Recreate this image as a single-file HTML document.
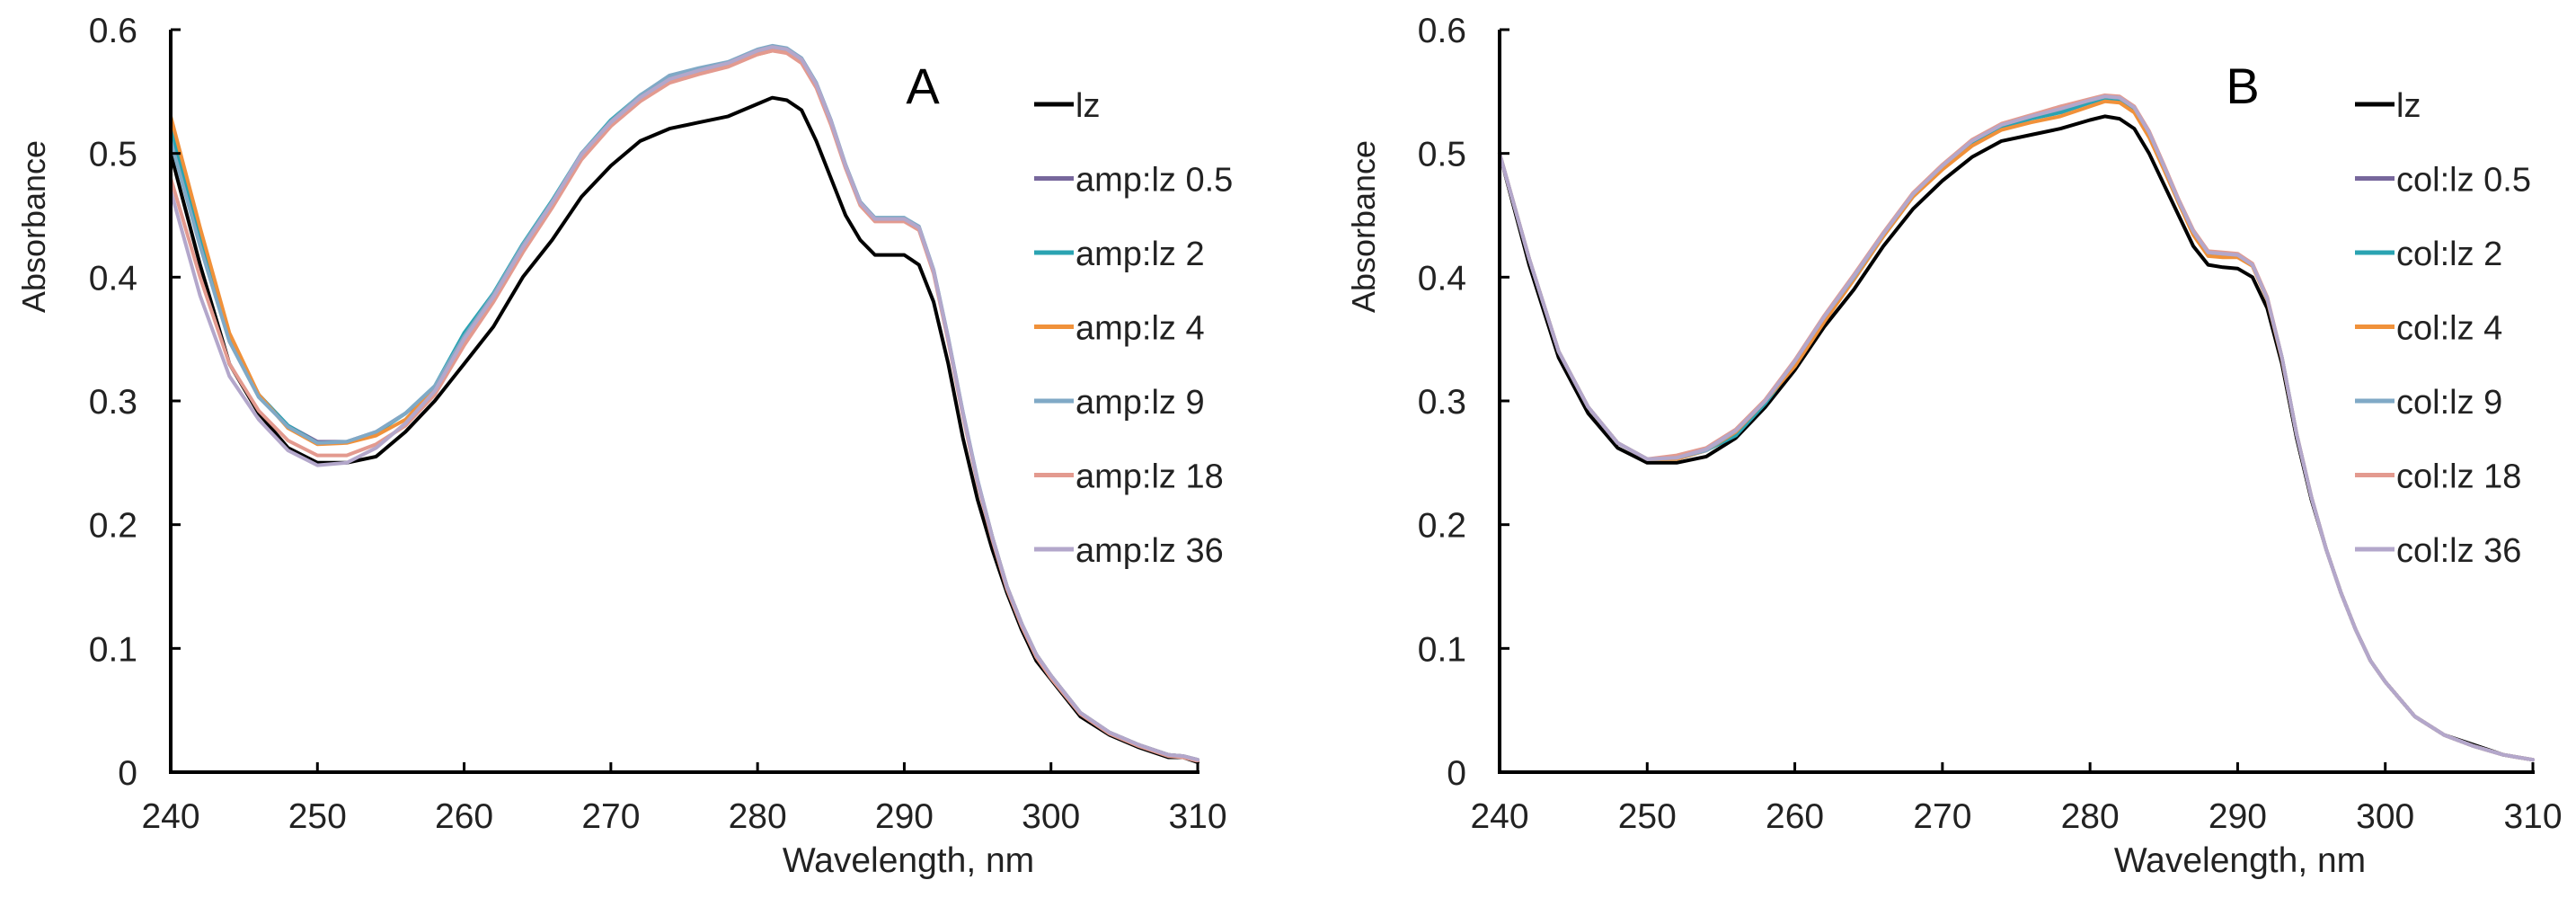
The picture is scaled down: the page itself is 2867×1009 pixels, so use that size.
<!DOCTYPE html>
<html><head><meta charset="utf-8"><style>
html,body{margin:0;padding:0;background:#fff;}
svg{display:block;font-family:"Liberation Sans",Arial,sans-serif;}
</style></head><body>
<svg id="fig" width="2867" height="1009" viewBox="0 0 2867 1009"></svg>
<script>
const wl = [240,242,244,246,248,250,252,254,256,258,260,262,264,266,268,270,272,274,276,278,280,281,282,283,284,285,286,287,288,289,290,291,292,293,294,295,296,297,298,299,300,302,304,306,308,309,310];
const xTicks = [240,250,260,270,280,290,300,310];
const yTicks = [0,0.1,0.2,0.3,0.4,0.5,0.6];
const yTickLabels = ["0","0.1","0.2","0.3","0.4","0.5","0.6"];
const colors = ["#000000","#77679c","#2aa3b2","#f0913a","#80a9c6","#e39a8f","#b3a7cb"];
const namesA = ["lz","amp:lz 0.5","amp:lz 2","amp:lz 4","amp:lz 9","amp:lz 18","amp:lz 36"];
const namesB = ["lz","col:lz 0.5","col:lz 2","col:lz 4","col:lz 9","col:lz 18","col:lz 36"];

const A_lz   = [0.50,0.41,0.33,0.29,0.262,0.25,0.25,0.255,0.275,0.30,0.33,0.36,0.40,0.43,0.465,0.49,0.51,0.52,0.525,0.53,0.54,0.545,0.543,0.535,0.51,0.48,0.45,0.43,0.418,0.418,0.418,0.41,0.38,0.33,0.27,0.22,0.18,0.145,0.115,0.09,0.075,0.045,0.03,0.02,0.012,0.012,0.008];
const A_05   = [0.52,0.43,0.35,0.305,0.28,0.267,0.267,0.275,0.29,0.31,0.35,0.385,0.425,0.46,0.50,0.525,0.545,0.56,0.567,0.572,0.582,0.585,0.583,0.575,0.555,0.525,0.49,0.46,0.447,0.447,0.447,0.44,0.405,0.35,0.29,0.235,0.19,0.15,0.12,0.095,0.078,0.048,0.032,0.022,0.014,0.013,0.01];
const A_2    = [0.52,0.43,0.35,0.305,0.28,0.266,0.267,0.274,0.29,0.312,0.355,0.387,0.427,0.462,0.50,0.527,0.547,0.562,0.568,0.572,0.583,0.586,0.584,0.576,0.556,0.526,0.49,0.46,0.448,0.448,0.448,0.44,0.405,0.35,0.29,0.235,0.19,0.15,0.12,0.095,0.078,0.048,0.032,0.022,0.014,0.013,0.01];
const A_4    = [0.53,0.44,0.355,0.305,0.278,0.265,0.266,0.272,0.285,0.31,0.348,0.383,0.423,0.458,0.497,0.523,0.543,0.558,0.565,0.573,0.58,0.583,0.582,0.574,0.554,0.524,0.49,0.46,0.446,0.446,0.446,0.44,0.405,0.35,0.29,0.235,0.19,0.15,0.12,0.095,0.078,0.048,0.032,0.022,0.014,0.013,0.01];
const A_9    = [0.51,0.425,0.348,0.303,0.279,0.266,0.267,0.275,0.29,0.312,0.352,0.386,0.426,0.461,0.50,0.526,0.547,0.563,0.569,0.574,0.584,0.587,0.585,0.577,0.557,0.527,0.491,0.461,0.448,0.448,0.448,0.441,0.406,0.351,0.291,0.236,0.19,0.15,0.12,0.095,0.078,0.048,0.032,0.022,0.014,0.013,0.01];
const A_18   = [0.48,0.40,0.33,0.292,0.268,0.256,0.256,0.265,0.28,0.305,0.345,0.38,0.42,0.456,0.495,0.522,0.542,0.557,0.564,0.57,0.58,0.583,0.581,0.573,0.553,0.523,0.488,0.458,0.445,0.445,0.445,0.438,0.403,0.348,0.288,0.233,0.188,0.148,0.118,0.093,0.076,0.047,0.031,0.021,0.013,0.012,0.009];
const A_36   = [0.47,0.385,0.32,0.285,0.26,0.248,0.25,0.262,0.282,0.308,0.35,0.384,0.424,0.46,0.499,0.525,0.545,0.56,0.567,0.573,0.583,0.586,0.584,0.576,0.556,0.526,0.49,0.46,0.447,0.447,0.447,0.44,0.405,0.35,0.29,0.235,0.19,0.15,0.12,0.095,0.078,0.048,0.032,0.022,0.014,0.013,0.01];

const B_lz   = [0.50,0.41,0.335,0.29,0.262,0.25,0.25,0.255,0.27,0.295,0.325,0.36,0.39,0.425,0.455,0.478,0.497,0.51,0.515,0.52,0.527,0.53,0.528,0.52,0.50,0.475,0.45,0.425,0.41,0.408,0.407,0.40,0.375,0.33,0.27,0.22,0.18,0.145,0.115,0.09,0.073,0.045,0.03,0.022,0.014,0.012,0.01];
const B_05   = [0.50,0.415,0.34,0.295,0.266,0.253,0.253,0.26,0.275,0.30,0.332,0.368,0.40,0.435,0.467,0.49,0.51,0.523,0.53,0.535,0.543,0.546,0.545,0.537,0.517,0.49,0.462,0.437,0.42,0.419,0.418,0.41,0.383,0.335,0.273,0.222,0.18,0.145,0.115,0.09,0.073,0.045,0.03,0.021,0.014,0.012,0.01];
const B_2    = [0.50,0.415,0.34,0.295,0.266,0.253,0.253,0.26,0.272,0.298,0.33,0.366,0.398,0.433,0.465,0.488,0.508,0.521,0.528,0.533,0.541,0.544,0.543,0.535,0.515,0.488,0.46,0.435,0.419,0.418,0.417,0.41,0.383,0.335,0.273,0.222,0.18,0.145,0.115,0.09,0.073,0.045,0.03,0.021,0.014,0.012,0.01];
const B_4    = [0.50,0.415,0.34,0.295,0.266,0.253,0.253,0.26,0.275,0.30,0.328,0.364,0.398,0.433,0.465,0.487,0.506,0.519,0.525,0.53,0.538,0.542,0.541,0.533,0.513,0.487,0.46,0.434,0.417,0.416,0.416,0.409,0.382,0.334,0.273,0.222,0.18,0.145,0.115,0.09,0.073,0.045,0.03,0.021,0.014,0.012,0.01];
const B_9    = [0.50,0.415,0.34,0.295,0.266,0.253,0.254,0.26,0.276,0.30,0.332,0.368,0.40,0.435,0.467,0.49,0.51,0.523,0.53,0.538,0.543,0.546,0.545,0.537,0.517,0.49,0.462,0.437,0.42,0.419,0.418,0.41,0.383,0.335,0.273,0.222,0.18,0.145,0.115,0.09,0.073,0.045,0.03,0.021,0.014,0.012,0.01];
const B_18   = [0.50,0.415,0.34,0.295,0.266,0.253,0.256,0.262,0.277,0.301,0.333,0.369,0.402,0.436,0.468,0.491,0.511,0.524,0.531,0.538,0.544,0.547,0.546,0.538,0.518,0.491,0.463,0.438,0.421,0.42,0.419,0.411,0.384,0.335,0.273,0.222,0.18,0.145,0.115,0.09,0.073,0.045,0.03,0.021,0.014,0.012,0.01];
const B_36   = [0.50,0.415,0.34,0.295,0.266,0.253,0.254,0.261,0.276,0.30,0.332,0.368,0.401,0.435,0.467,0.49,0.51,0.523,0.53,0.536,0.543,0.546,0.545,0.537,0.517,0.49,0.462,0.437,0.42,0.419,0.418,0.41,0.383,0.335,0.273,0.222,0.18,0.145,0.115,0.09,0.073,0.045,0.03,0.021,0.014,0.012,0.01];

const seriesA = [A_lz,A_05,A_2,A_4,A_9,A_18,A_36];
const seriesB = [B_lz,B_05,B_2,B_4,B_9,B_18,B_36];

const NS = "http://www.w3.org/2000/svg";
const svg = document.getElementById("fig");
function mk(tag, attrs, parent){
  const e = document.createElementNS(NS, tag);
  for (const k in attrs) e.setAttribute(k, attrs[k]);
  (parent||svg).appendChild(e);
  return e;
}

function drawPanel(cfg){
  const g = mk("g", {});
  
  
  const x0 = cfg.x0, x1 = cfg.x1, yTop = 33, yBot = 859;
  const sx = v => x0 + (v - 240) / 70 * (x1 - x0);
  const sy = v => yBot - v / 0.6 * (yBot - yTop);

  for (let s = 0; s < cfg.series.length; s++) {
    const vals = cfg.series[s];
    const pts = wl.map((w, i) => sx(w).toFixed(1) + "," + sy(vals[i]).toFixed(1)).join(" ");
    const pl = mk("polyline", {points: pts, fill: "none", stroke: colors[s], "stroke-width": 4, "stroke-linejoin": "round", "stroke-linecap": "round"}, g);
    
    
  }

  const yAxis = mk("line", {x1: x0, y1: yTop, x2: x0, y2: yBot, stroke: "#000", "stroke-width": 4}, g);
  
  
  const xAxis = mk("line", {x1: x0 - 2, y1: yBot, x2: x1 + 2, y2: yBot, stroke: "#000", "stroke-width": 4}, g);
  
  

  yTicks.forEach((v, i) => {
    const y = sy(v);
    if (i > 0) mk("line", {x1: x0, y1: y, x2: x0 + 11, y2: y, stroke: "#000", "stroke-width": 3}, g);
    const t = mk("text", {x: x0 - 37, y: y + 14, "text-anchor": "end", "font-size": 39, fill: "#222"}, g);
    t.textContent = yTickLabels[i];
    
    
  });
  xTicks.forEach((v, i) => {
    const x = sx(v);
    if (i > 0) mk("line", {x1: x, y1: yBot, x2: x, y2: yBot - 11, stroke: "#000", "stroke-width": 3}, g);
    const t = mk("text", {x: x, y: yBot + 62, "text-anchor": "middle", "font-size": 39, fill: "#222"}, g);
    t.textContent = String(v);
    
    
  });

  const yt = mk("text", {x: 0, y: 0, "text-anchor": "middle", "font-size": 36, fill: "#222", transform: "translate(" + (cfg.yTitleX) + ",252) rotate(-90)"}, g);
  yt.textContent = "Absorbance";
  
  
  const xt = mk("text", {x: cfg.xTitleX, y: 970, "text-anchor": "middle", "font-size": 39, fill: "#222"}, g);
  xt.textContent = "Wavelength, nm";
  
  

  const lab = mk("text", {x: cfg.labelX, y: 115, "text-anchor": "middle", "font-size": 56, fill: "#000"}, g);
  lab.textContent = cfg.label;
  
  

  cfg.names.forEach((n, i) => {
    const y = 116 + i * 82.5;
    const lg = mk("g", {}, g);
    
    
    mk("line", {x1: cfg.legX, y1: y, x2: cfg.legX + 44, y2: y, stroke: colors[i], "stroke-width": 5}, lg);
    const t = mk("text", {x: cfg.legX + 46, y: y + 14, "font-size": 38, fill: "#222"}, lg);
    t.textContent = n;
  });
}

drawPanel({id: "panel-a", x0: 190, x1: 1333, series: seriesA, names: namesA, label: "A", labelX: 1027, legX: 1151, yTitleX: 50, xTitleX: 1011});
drawPanel({id: "panel-b", x0: 1669, x1: 2819, series: seriesB, names: namesB, label: "B", labelX: 2496, legX: 2621, yTitleX: 1530, xTitleX: 2493});
</script>
</body></html>
